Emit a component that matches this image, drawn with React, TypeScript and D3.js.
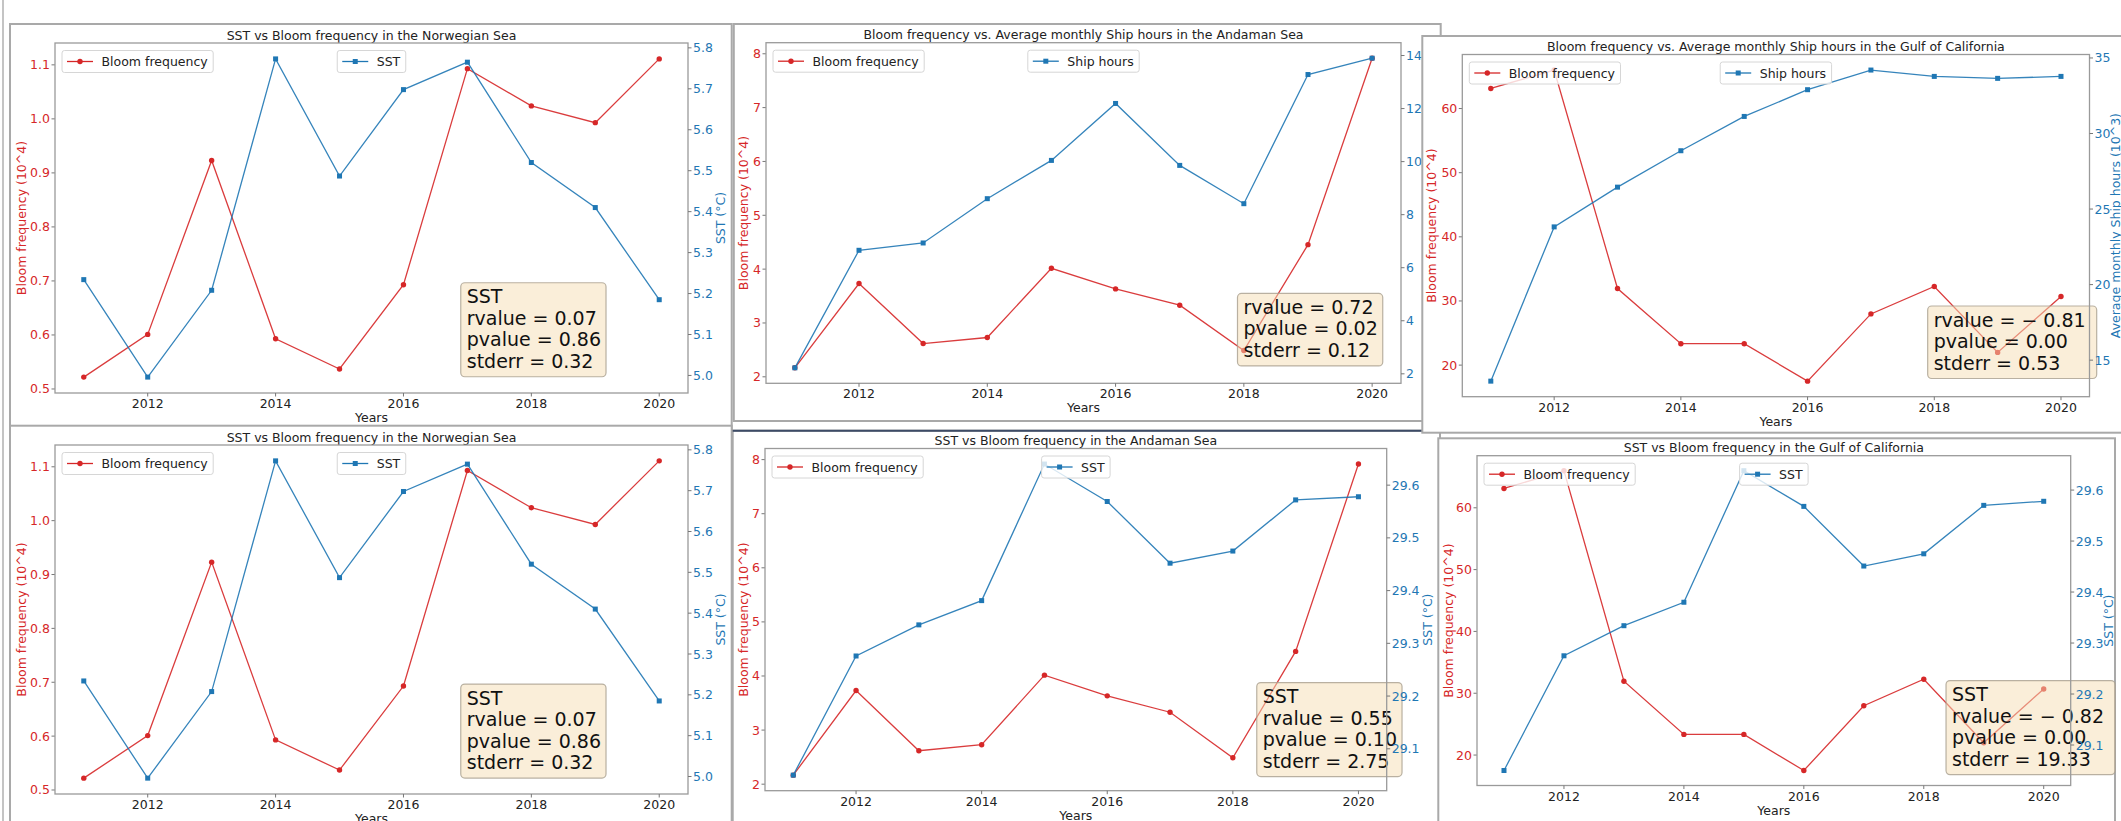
import React from 'react';
import * as d3 from 'd3';

const years = [2011, 2012, 2013, 2014, 2015, 2016, 2017, 2018, 2019, 2020];
const yearTicks = [2012, 2014, 2016, 2018, 2020];

// Norwegian Sea
const norwegianBloom = [0.522, 0.601, 0.923, 0.593, 0.537, 0.693, 1.093, 1.024, 0.993, 1.111];
const norwegianSst = [5.234, 4.996, 5.208, 5.773, 5.487, 5.698, 5.765, 5.52, 5.41, 5.185];
const norwegianBloomTicks = [0.5, 0.6, 0.7, 0.8, 0.9, 1.0, 1.1];
const norwegianSstTicks = [5.0, 5.1, 5.2, 5.3, 5.4, 5.5, 5.6, 5.7, 5.8];

// Andaman Sea
const andamanBloom = [2.167, 3.732, 2.618, 2.73, 4.016, 3.633, 3.33, 2.489, 4.455, 7.918];
const andamanShipHours = [2.226, 6.657, 6.933, 8.603, 10.046, 12.193, 9.858, 8.414, 13.284, 13.9];
const andamanSst = [29.05, 29.276, 29.335, 29.381, 29.64, 29.569, 29.452, 29.475, 29.572, 29.578];
const andamanBloomTicks = [2, 3, 4, 5, 6, 7, 8];
const andamanShipTicks = [2, 4, 6, 8, 10, 12, 14];
const andamanSstTicks = [29.1, 29.2, 29.3, 29.4, 29.5, 29.6];

// Gulf of California
const gulfBloom = [63.13, 66.0, 31.94, 23.34, 23.34, 17.5, 27.98, 32.26, 21.98, 30.69];
const gulfShipHours = [13.61, 23.82, 26.45, 28.86, 31.13, 32.9, 34.2, 33.78, 33.65, 33.78];
const gulfSst = [29.05, 29.275, 29.334, 29.38, 29.638, 29.568, 29.451, 29.475, 29.57, 29.578];
const gulfBloomTicks = [20, 30, 40, 50, 60];
const gulfShipTicks = [15, 20, 25, 30, 35];
const gulfSstTicks = [29.1, 29.2, 29.3, 29.4, 29.5, 29.6];

// regression stats text
const statsNorwegianSst = ['SST', 'rvalue = 0.07', 'pvalue = 0.86', 'stderr = 0.32'];
const statsAndamanShip = ['rvalue = 0.72', 'pvalue = 0.02', 'stderr = 0.12'];
const statsGulfShip = ['rvalue =  \u2212 0.81', 'pvalue = 0.00', 'stderr = 0.53'];
const statsAndamanSst = ['SST', 'rvalue = 0.55', 'pvalue = 0.10', 'stderr = 2.75'];
const statsGulfSst = ['SST', 'rvalue =  \u2212 0.82', 'pvalue = 0.00', 'stderr = 19.33'];

const RED = '#d62728';
const BLUE = '#1f77b4';
const FONT = '"DejaVu Sans", sans-serif';
const FS = 12.5;
const STAT_FS = 19;

const measureCtx = document.createElement('canvas').getContext('2d');
const measure = (s, size) => {
  if (!measureCtx) return s.length * size * 0.58;
  measureCtx.font = `${size}px "DejaVu Sans"`;
  return measureCtx.measureText(s).width;
};

const padExtent = (v) => {
  const [a, b] = d3.extent(v);
  const m = (b - a) * 0.05;
  return [a - m, b + m];
};

const panels = {
  p1: {
    frame: { x: 10, y: 24, w: 721.7, h: 430 },
    plot: { l: 55, t: 43, r: 688, b: 393 },
    title: 'SST vs Bloom frequency in the Norwegian Sea',
    bloom: norwegianBloom, bloomTicks: norwegianBloomTicks, bloomDec: 1,
    other: norwegianSst, otherTicks: norwegianSstTicks, otherDec: 1,
    otherName: 'SST', otherLabel: 'SST (°C)',
    offL: 34, offR: 32.7, stats: statsNorwegianSst, box: [0.641, 0.685],
  },
  p2: {
    frame: { x: 733.8, y: 24, w: 706.9, h: 397 },
    plot: { l: 766, t: 42.7, r: 1401, b: 383.3 },
    title: 'Bloom frequency vs. Average monthly Ship hours in the Andaman Sea',
    bloom: andamanBloom, bloomTicks: andamanBloomTicks, bloomDec: 0,
    other: andamanShipHours, otherTicks: andamanShipTicks, otherDec: 0,
    otherName: 'Ship hours', otherLabel: 'Average monthly Ship hours (10^3)',
    offL: 23, offR: 30, stats: statsAndamanShip, box: [0.7425, 0.736],
  },
  p3: {
    frame: { x: 1422.3, y: 36, w: 720, h: 396.7 },
    plot: { l: 1462.3, t: 54.5, r: 2089.5, b: 396.7 },
    title: 'Bloom frequency vs. Average monthly Ship hours in the Gulf of California',
    bloom: gulfBloom, bloomTicks: gulfBloomTicks, bloomDec: 0,
    other: gulfShipHours, otherTicks: gulfShipTicks, otherDec: 0,
    otherName: 'Ship hours', otherLabel: 'Average monthly Ship hours (10^3)',
    offL: 31, offR: 26, stats: statsGulfShip, box: [0.742, 0.735],
  },
  p4: {
    frame: { x: 10, y: 425.7, w: 721.7, h: 420 },
    plot: { l: 55, t: 445, r: 688, b: 794 },
    title: 'SST vs Bloom frequency in the Norwegian Sea',
    bloom: norwegianBloom, bloomTicks: norwegianBloomTicks, bloomDec: 1,
    other: norwegianSst, otherTicks: norwegianSstTicks, otherDec: 1,
    otherName: 'SST', otherLabel: 'SST (°C)',
    offL: 34, offR: 32.7, stats: statsNorwegianSst, box: [0.641, 0.685],
  },
  p5: {
    frame: { x: 732.7, y: 430.7, w: 707.3, h: 420 }, navyTop: true,
    plot: { l: 765, t: 448.5, r: 1386.7, b: 790.7 },
    title: 'SST vs Bloom frequency in the Andaman Sea',
    bloom: andamanBloom, bloomTicks: andamanBloomTicks, bloomDec: 0,
    other: andamanSst, otherTicks: andamanSstTicks, otherDec: 1,
    otherName: 'SST', otherLabel: 'SST (°C)',
    offL: 21.5, offR: 40.5, stats: statsAndamanSst, box: [0.791, 0.684],
  },
  p6: {
    frame: { x: 1438.3, y: 438.3, w: 676.7, h: 420 },
    plot: { l: 1477, t: 455.7, r: 2070.7, b: 785.5 },
    title: 'SST vs Bloom frequency in the Gulf of California',
    bloom: gulfBloom, bloomTicks: gulfBloomTicks, bloomDec: 0,
    other: gulfSst, otherTicks: gulfSstTicks, otherDec: 1,
    otherName: 'SST', otherLabel: 'SST (°C)',
    offL: 29, offR: 38, stats: statsGulfSst, box: [0.79, 0.682],
  },
};

// stacking order of the pasted figures
const drawOrder = ['p1', 'p2', 'p4', 'p5', 'p3', 'p6'];

function Legend({ x, y, label, color, square }) {
  const w = 39.5 + measure(label, FS) + 5.5;
  const my = y + 11;
  return (
    <g>
      <rect x={x} y={y} width={w} height={22} rx={2.5} fill="#fff" fillOpacity={0.8} stroke="#d6d6d6" strokeWidth={1} />
      <line x1={x + 5} x2={x + 31} y1={my} y2={my} stroke={color} strokeWidth={1.3} />
      {square
        ? <rect x={x + 18 - 2.5} y={my - 2.5} width={5} height={5} fill={color} />
        : <circle cx={x + 18} cy={my} r={2.7} fill={color} />}
      <text x={x + 39.5} y={my} dominantBaseline="central" fontSize={FS} fill="#222">{label}</text>
    </g>
  );
}

function Panel({ p }) {
  const { plot, frame } = p;
  const x = d3.scaleLinear().domain(padExtent(years)).range([plot.l, plot.r]);
  const yL = d3.scaleLinear().domain(padExtent(p.bloom)).range([plot.b, plot.t]);
  const yR = d3.scaleLinear().domain(padExtent(p.other)).range([plot.b, plot.t]);
  const lineL = d3.line().x((_, i) => x(years[i])).y((d) => yL(d));
  const lineR = d3.line().x((_, i) => x(years[i])).y((d) => yR(d));
  const cx = (plot.l + plot.r) / 2;
  const cy = (plot.t + plot.b) / 2;

  const bx = plot.l + p.box[0] * (plot.r - plot.l);
  const by = plot.t + p.box[1] * (plot.b - plot.t);
  const bw = d3.max(p.stats, (s) => measure(s, STAT_FS)) + 11;
  const bh = p.stats.length * 21.5 + 8;

  const otherW = 39.5 + measure(p.otherName, FS) + 5.5;

  return (
    <g>
      <rect x={frame.x} y={frame.y} width={frame.w} height={frame.h} fill="#fff" stroke="#a9a9a9" strokeWidth={2} />
      {p.navyTop && (
        <line x1={frame.x} x2={frame.x + frame.w} y1={frame.y} y2={frame.y} stroke="#3d4b66" strokeWidth={2} />
      )}
      <text x={cx} y={plot.t - 8} textAnchor="middle" dominantBaseline="central" fontSize={FS} fill="#222">{p.title}</text>

      {/* bloom frequency (left axis) */}
      <path d={lineL(p.bloom)} fill="none" stroke={RED} strokeWidth={1.3} strokeOpacity={0.9} />
      {p.bloom.map((d, i) => (
        <circle key={i} cx={x(years[i])} cy={yL(d)} r={2.7} fill={RED} />
      ))}

      {/* stats box */}
      <rect x={bx} y={by} width={bw} height={bh} rx={4} fill="#f5deb3" fillOpacity={0.5} stroke="#a89f8f" strokeOpacity={0.8} strokeWidth={1.2} />
      {p.stats.map((s, i) => (
        <text key={i} x={bx + 6} y={by + 13.5 + i * 21.5} dominantBaseline="central" fontSize={STAT_FS} fill="#111">{s}</text>
      ))}

      {/* left axis */}
      {p.bloomTicks.map((t) => (
        <g key={'l' + t}>
          <line x1={plot.l - 3.5} x2={plot.l} y1={yL(t)} y2={yL(t)} stroke="#777" strokeWidth={1} />
          <text x={plot.l - 5} y={yL(t)} textAnchor="end" dominantBaseline="central" fontSize={FS} fill={RED}>
            {t.toFixed(p.bloomDec)}
          </text>
        </g>
      ))}
      <text transform={`translate(${plot.l - p.offL},${cy}) rotate(-90)`} textAnchor="middle" dominantBaseline="central" fontSize={FS} fill={RED}>
        Bloom frequency (10^4)
      </text>
      <Legend x={plot.l + 7} y={plot.t + 7.5} label="Bloom frequency" color={RED} square={false} />

      {/* second series (right axis) */}
      <path d={lineR(p.other)} fill="none" stroke={BLUE} strokeWidth={1.3} strokeOpacity={0.9} />
      {p.other.map((d, i) => (
        <rect key={i} x={x(years[i]) - 2.5} y={yR(d) - 2.5} width={5} height={5} fill={BLUE} />
      ))}

      <rect x={plot.l} y={plot.t} width={plot.r - plot.l} height={plot.b - plot.t} fill="none" stroke="#9a9a9a" strokeWidth={1.3} />

      {p.otherTicks.map((t) => (
        <g key={'r' + t}>
          <line x1={plot.r} x2={plot.r + 3.5} y1={yR(t)} y2={yR(t)} stroke="#777" strokeWidth={1} />
          <text x={plot.r + 5} y={yR(t)} dominantBaseline="central" fontSize={FS} fill={BLUE}>
            {t.toFixed(p.otherDec)}
          </text>
        </g>
      ))}
      <text transform={`translate(${plot.r + p.offR},${cy}) rotate(-90)`} textAnchor="middle" dominantBaseline="central" fontSize={FS} fill={BLUE}>
        {p.otherLabel}
      </text>

      {/* x axis */}
      {yearTicks.map((t) => (
        <g key={'x' + t}>
          <line x1={x(t)} x2={x(t)} y1={plot.b} y2={plot.b + 3.5} stroke="#777" strokeWidth={1} />
          <text x={x(t)} y={plot.b + 10.5} textAnchor="middle" dominantBaseline="central" fontSize={FS} fill="#222">{t}</text>
        </g>
      ))}
      <text x={cx} y={plot.b + 24.5} textAnchor="middle" dominantBaseline="central" fontSize={FS} fill="#222">Years</text>

      <Legend x={cx - otherW / 2} y={plot.t + 7.5} label={p.otherName} color={BLUE} square={true} />
    </g>
  );
}

export default function App() {
  return (
    <div style={{ position: 'fixed', left: 0, top: 0, width: 2121, height: 821, background: '#fff', overflow: 'hidden' }}>
      <svg width={2121} height={821} style={{ display: 'block' }} fontFamily={FONT}>
        <rect x={0} y={0} width={2121} height={821} fill="#fff" />
        <line x1={3} x2={3} y1={0} y2={821} stroke="#b0b0b0" strokeWidth={1.5} />
        {drawOrder.map((k) => (
          <Panel key={k} p={panels[k]} />
        ))}
      </svg>
    </div>
  );
}
